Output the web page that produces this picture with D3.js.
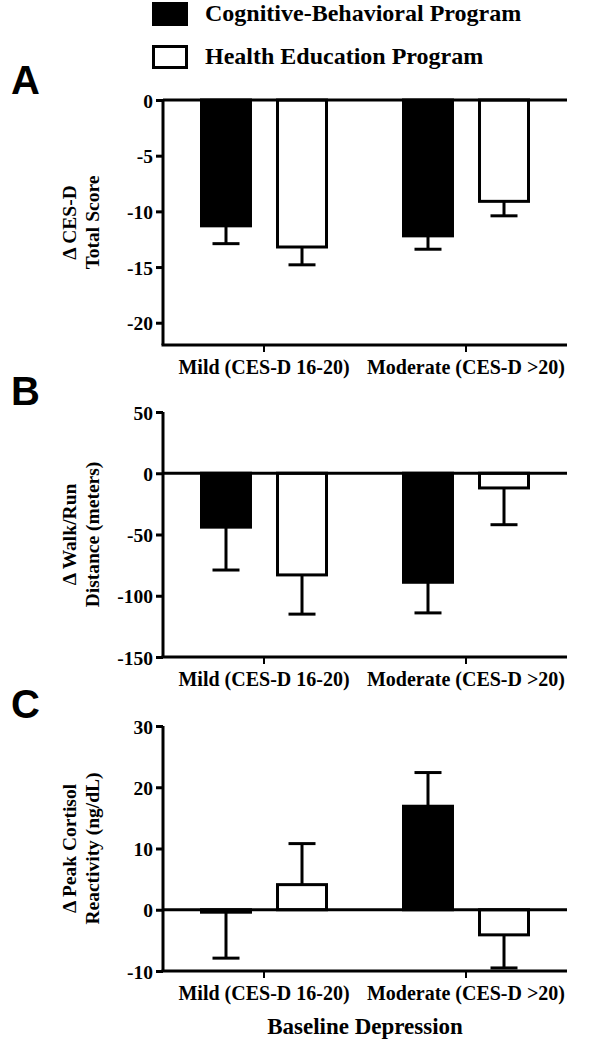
<!DOCTYPE html>
<html>
<head>
<meta charset="utf-8">
<script src="https://cdn.jsdelivr.net/npm/d3@7"></script>
<style>
html,body{margin:0;padding:0;background:#fff;}
svg{display:block;}
text{font-family:"Liberation Serif","Times New Roman",serif;font-weight:bold;fill:#000;}
.letter{font-family:"Liberation Sans",Arial,sans-serif;font-weight:bold;}
</style>
</head>
<body>
<script>
// ---- data ----
const categories = ["Mild (CES-D 16-20)", "Moderate (CES-D >20)"];
const seriesNames = ["Cognitive-Behavioral Program", "Health Education Program"];

const cesdCBT = [-11.3, -12.2];
const cesdCBTErr = [1.6, 1.2];
const cesdHEP = [-13.2, -9.1];
const cesdHEPErr = [1.6, 1.3];
const cesdTicks = [0, -5, -10, -15, -20];

const walkCBT = [-44, -89];
const walkCBTErr = [35, 25];
const walkHEP = [-83, -12];
const walkHEPErr = [32, 30];
const walkTicks = [50, 0, -50, -100, -150];

const cortCBT = [-0.4, 16.9];
const cortCBTErr = [7.5, 5.5];
const cortHEP = [4.1, -4.1];
const cortHEPErr = [6.7, 5.4];
const cortTicks = [30, 20, 10, 0, -10];

const W = 589, H = 1050;
const svg = d3.select("body").append("svg").attr("width", W).attr("height", H);

// legend
const legend = svg.append("g");
seriesNames.forEach((s, i) => {
  const y0 = 3.5 + i * 43;
  legend.append("rect").attr("x", 153.5).attr("y", y0).attr("width", 33).attr("height", 21)
    .attr("fill", i === 0 ? "#000" : "#fff").attr("stroke", "#000").attr("stroke-width", 3);
  legend.append("text").attr("x", 205).attr("y", y0 + 17.5)
    .attr("font-size", 24).text(s);
});

const panels = [
  {letter: "A", letterY: 94, top: 100, domain: [-22, 0], ticks: cesdTicks,
   title: ["\u0394 CES-D", "Total Score"],
   cbt: cesdCBT, cbtErr: cesdCBTErr, hep: cesdHEP, hepErr: cesdHEPErr},
  {letter: "B", letterY: 405, top: 412, domain: [-150, 50], ticks: walkTicks,
   title: ["\u0394 Walk/Run", "Distance (meters)"],
   cbt: walkCBT, cbtErr: walkCBTErr, hep: walkHEP, hepErr: walkHEPErr},
  {letter: "C", letterY: 718, top: 726, domain: [-10, 30], ticks: cortTicks,
   title: ["\u0394 Peak Cortisol", "Reactivity (ng/dL)"],
   cbt: cortCBT, cbtErr: cortCBTErr, hep: cortHEP, hepErr: cortHEPErr}
];

const left = 163, right = 567, ph = 245;
const x0 = d3.scaleBand().domain(categories).range([left, right]).padding(0);
const x1 = d3.scaleBand().domain(seriesNames).range([37, 165]).paddingInner(0.316).paddingOuter(0);

panels.forEach(p => {
  const g = svg.append("g");
  const bottom = p.top + ph;
  const y = d3.scaleLinear().domain(p.domain).range([bottom, p.top]);

  g.append("text").attr("class", "letter").attr("x", 11).attr("y", p.letterY)
    .attr("font-size", 40).text(p.letter);

  // y title
  const cy = (p.top + bottom) / 2;
  p.title.forEach((t, i) => {
    g.append("text")
      .attr("transform", `translate(${76 + i * 23},${cy}) rotate(-90)`)
      .attr("text-anchor", "middle").attr("font-size", 19.5).text(t);
  });

  // bars
  const rows = [];
  categories.forEach((c, ci) => {
    rows.push({c, s: seriesNames[0], v: p.cbt[ci], e: p.cbtErr[ci], fill: "#000"});
    rows.push({c, s: seriesNames[1], v: p.hep[ci], e: p.hepErr[ci], fill: "#fff"});
  });
  const bw = x1.bandwidth();
  rows.forEach(r => {
    const bx = x0(r.c) + x1(r.s);
    const cx = bx + bw / 2;
    const yv = y(r.v), y0v = y(0);
    const end = r.v >= 0 ? r.v + r.e : r.v - r.e;
    g.append("line").attr("x1", cx).attr("x2", cx).attr("y1", yv).attr("y2", y(end))
      .attr("stroke", "#000").attr("stroke-width", 3);
    g.append("line").attr("x1", cx - 13.5).attr("x2", cx + 13.5).attr("y1", y(end)).attr("y2", y(end))
      .attr("stroke", "#000").attr("stroke-width", 3);
    g.append("rect").attr("x", bx + 1.5).attr("width", bw - 3)
      .attr("y", Math.min(yv, y0v)).attr("height", Math.abs(yv - y0v))
      .attr("fill", r.fill).attr("stroke", "#000").attr("stroke-width", 3);
  });

  // zero line
  g.append("line").attr("x1", left).attr("x2", right).attr("y1", y(0)).attr("y2", y(0))
    .attr("stroke", "#000").attr("stroke-width", 3);

  // y axis
  const ya = g.append("g").attr("transform", `translate(${left},0)`)
    .call(d3.axisLeft(y).tickValues(p.ticks).tickSize(7).tickPadding(3).tickFormat(d => String(d)));
  ya.select(".domain").attr("stroke-width", 3).attr("d", `M0,${p.top}V${bottom}`);
  ya.selectAll(".tick line").attr("stroke-width", 3);
  ya.selectAll("text").attr("font-size", 19.5).attr("font-family", "Liberation Serif").attr("font-weight", "bold").attr("dy", "0.36em");

  // x axis
  const xa = g.append("g").attr("transform", `translate(0,${bottom})`)
    .call(d3.axisBottom(x0).tickSize(7).tickPadding(8));
  xa.select(".domain").attr("stroke-width", 3).attr("d", `M${left - 1.5},0H${right}`);
  xa.selectAll(".tick line").attr("stroke-width", 2);
  xa.selectAll("text").attr("font-size", 20).attr("font-family", "Liberation Serif").attr("font-weight", "bold");
});

svg.append("text").attr("x", 365).attr("y", 1034).attr("text-anchor", "middle")
  .attr("font-size", 23).text("Baseline Depression");
</script>
</body>
</html>
